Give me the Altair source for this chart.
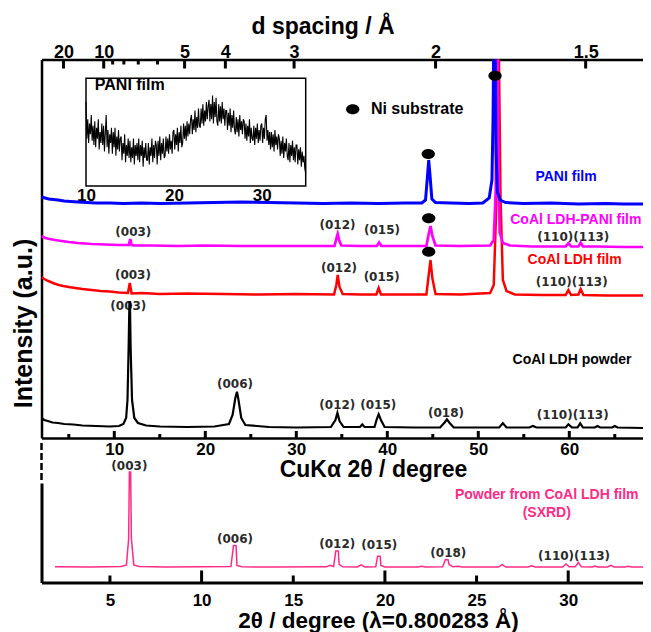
import math
import altair as alt
import pandas as pd

SANS = "Liberation Sans"
PEAK_FONT = "DejaVu Sans"
W = 601.5
H = 523

CU_LAMBDA = 1.5406  # Å

# ---------------- CuKα patterns: 2θ (deg) and intensity (a.u., stacked as drawn) ----------------
pani_tt = [2.0, 2.4, 2.8, 3.3, 3.8, 4.5, 5.2, 6.0, 7.0, 8.0, 9.5, 11, 13, 15, 18, 21, 24, 27, 30, 33,
           36, 39, 42, 43.8, 44.2, 44.4, 44.55, 44.7, 44.9, 45.3, 47, 49, 50.5, 51.2, 51.5, 51.62, 51.72,
           51.85, 51.95, 52.1, 52.4, 53, 55, 58, 61, 64, 66, 68.1]
pani_i = [241, 240, 239, 238.5, 238, 237, 236.5, 236, 235.5, 235, 235, 234.5, 235, 234.5, 235, 235.5,
          236, 235.5, 235, 234.5, 235, 234.5, 235, 235, 238, 260, 278, 262, 239, 235.5, 235, 234.5, 235,
          240, 258, 318, 420, 420, 288, 246, 238, 235.5, 234.5, 235, 234, 234.5, 234, 234]

ldhpani_tt = [2.0, 2.4, 2.9, 3.5, 4.2, 5.0, 6.0, 7.5, 9.0, 10.5, 11.6, 11.75, 11.9, 12.2, 14, 17, 20, 24,
              28, 32, 34.2, 34.42, 34.55, 34.7, 34.95, 37, 38.85, 39.1, 39.35, 41, 44.3, 44.55, 44.75,
              44.95, 45.3, 48, 51.3, 51.7, 51.92, 52.0, 52.1, 52.2, 52.35, 52.7, 53.5, 56, 59.6, 59.9,
              60.2, 61.0, 61.25, 61.5, 63, 66, 68.1]
ldhpani_i = [202, 200, 199, 198, 197, 196, 195, 194, 193.5, 193, 193, 199, 193, 192.5, 192.5, 192,
             192.5, 192, 192, 192, 192, 200, 204, 198, 192.5, 192, 192, 195.5, 192, 192, 192, 204, 212,
             202, 192.5, 192, 192.5, 198, 248, 398, 398, 278, 206, 195, 192.5, 191.5, 191.5, 194.7, 191.5,
             191.5, 195.3, 191.5, 191.5, 191, 191]

ldhfilm_tt = [2.0, 2.3, 2.6, 3.0, 3.4, 3.9, 4.4, 5.0, 5.7, 6.5, 7.5, 8.5, 9.5, 10.5, 11.5, 11.7, 11.9, 13,
              15, 18, 22, 26, 30, 34.15, 34.4, 34.55, 34.75, 35.1, 37, 38.8, 39.05, 39.3, 42, 44.3, 44.55,
              44.75, 44.95, 45.3, 48, 51.3, 51.7, 52.0, 52.12, 52.25, 52.45, 52.7, 53.1, 54, 57, 59.6,
              59.9, 60.2, 61.0, 61.25, 61.55, 64, 68.1]
ldhfilm_i = [161, 159, 157.5, 156, 154.5, 153, 152, 151, 150, 149, 148, 147, 146.5, 145.5, 145, 155, 144.5,
             145, 144, 144.5, 144, 143.5, 144, 143.5, 153, 163, 151, 144, 143.5, 143.5, 150, 143.5, 143.5,
             143.5, 163, 178, 160, 144, 143.5, 145, 153, 238, 398, 398, 238, 158, 147, 143.5, 143, 143,
             148, 143, 143.5, 149, 143, 142.5, 142.5]

powder_tt = [2.0, 2.3, 2.7, 3.2, 3.8, 4.5, 5.5, 6.5, 8.0, 9.5, 10.5, 11.0, 11.3, 11.45, 11.58, 11.66, 11.72,
             11.8, 11.95, 12.2, 12.6, 13.5, 15, 18, 21, 22.6, 23.0, 23.3, 23.48, 23.65, 23.95, 24.4, 27, 30,
             33.8, 34.3, 34.52, 34.75, 35.2, 37.0, 37.25, 37.5, 38.6, 38.85, 39.05, 39.3, 39.7, 43, 45.8,
             46.3, 46.55, 46.85, 47.3, 50, 52.3, 52.7, 53.1, 55.6, 56.0, 56.4, 59.6, 59.9, 60.3, 60.9, 61.2,
             61.5, 62.8, 63.1, 63.4, 64.7, 65.0, 65.3, 68.1]
powder_i = [20, 18, 17, 15.5, 15, 14, 13.5, 12.5, 12, 11.5, 12, 14, 20, 38, 93, 136, 136, 88, 38, 20, 15,
            12.5, 11.5, 11, 11.5, 14, 23, 40, 46.3, 38, 20, 13, 11, 10.5, 11, 18, 25.3, 17, 11, 11, 13.5,
            11, 11, 19, 23.7, 18, 11, 10.5, 10.5, 15.5, 18.7, 15, 10.5, 10.5, 10.5, 14.7, 10.5, 10.5, 12,
            10.5, 10.5, 13.7, 10.5, 10.5, 14.7, 10.5, 10.5, 12, 10.5, 10.5, 12, 10.5, 10]

series_names = ["CoAl LDH powder", "CoAl LDH film", "CoAl LDH-PANI film", "PANI film"]
series_colors = ["#000000", "#ff0000", "#ff00ff", "#0000ff"]
series_widths = [2.2, 3.0, 3.0, 3.0]

# peak labels (hkl) on the CuKα patterns
hkl_text = ["(003)", "(003)", "(003)", "(006)", "(012)", "(015)", "(012)", "(015)", "(012)", "(015)",
            "(018)", "(110)(113)", "(110)(113)", "(110)(113)"]
hkl_tt = [12.09, 12.05, 11.54, 23.26, 34.53, 39.42, 34.69, 39.38, 34.51, 39.01, 46.45, 60.44, 60.26, 60.37]
hkl_i = [206.3, 163, 132, 54, 213, 208, 169.7, 161.3, 33, 33, 25.3, 201.3, 156.3, 23]

# series name labels
name_tt = [59.64, 60.72, 60.58, 60.3]
name_i = [260.7, 218, 178, 78]
name_series = ["PANI film", "CoAl LDH-PANI film", "CoAl LDH film", "CoAl LDH powder"]

# Ni substrate reflections (markers)
ni_tt = [44.5, 44.55, 44.55, 51.84]
ni_i = [284, 219.7, 186.3, 362.3]
ni_key_tt = [36.2]
ni_key_i = [328.7]
ni_label_tt = [38.2]

# d-spacing ticks (Å) and 2θ ticks (deg)
d_major = [20, 10, 5, 4, 3, 2, 1.5]
d_minor = [9, 8, 7, 6]
cu_major = [10, 20, 30, 40, 50, 60]
cu_minor = [5, 15, 25, 35, 45, 55, 65]
sx_major = [10, 20, 30]
sx_minor = [5, 15, 25]
sx_labels = [5, 10, 15, 20, 25, 30]

# ---------------- SXRD pattern (λ = 0.800283 Å) ----------------
sx_tt = [2.0, 4.0, 5.6, 5.9, 6.02, 6.06, 6.13, 6.17, 6.3, 6.6, 8.0, 10.0, 11.6, 11.74, 11.78, 11.88, 11.93,
         12.2, 14.0, 16.8, 17.0, 17.2, 17.32, 17.36, 17.46, 17.5, 17.7, 18.5, 18.7, 18.9, 19.5, 19.6, 19.64,
         19.74, 19.78, 20.0, 21.8, 22.0, 22.2, 23.15, 23.3, 23.34, 23.44, 23.5, 23.7, 24.0, 24.2, 26.2,
         26.4, 26.6, 27.8, 28.0, 28.2, 29.7, 29.88, 30.05, 30.38, 30.55, 30.72, 31.3, 31.46, 31.6, 32.15,
         32.33, 32.5, 33.1, 33.28, 33.45, 34.08]
sx_i = [0.5, 0.3, 0.8, 2.5, 30, 100, 100, 30, 2.5, 0.8, 0.3, 0.5, 0.8, 23, 23, 23, 2, 0.5, 0.3, 0.5, 2, 0.8,
        17, 17, 17, 3, 0.5, 0.3, 2.5, 0.3, 0.5, 11.6, 11.6, 11.6, 2, 0.3, 0.3, 1.2, 0.3, 0.5, 8, 8.1, 8, 3,
        0.5, 1, 0.3, 0.3, 2.8, 0.3, 0.3, 1.6, 0.3, 0.3, 3.5, 0.5, 0.5, 5, 0.5, 0.3, 1.2, 0.3, 0.3, 2, 0.3,
        0.3, 1, 0.3, 0.3]
sx_hkl = ["(003)", "(006)", "(012)", "(015)", "(018)", "(110)(113)"]
sx_hkl_tt = [6.06, 11.82, 17.40, 19.69, 23.46, 30.32]
sx_hkl_i = [106.6, 30.2, 24.9, 23.9, 15.1, 11.6]
sx_name = ["Powder from CoAl LDH film", "(SXRD)"]
sx_name_tt = [28.83, 28.83]
sx_name_i = [75.8, 56.8]

# ---------------- inset: PANI film, 2θ 10-35°, step 0.1° ----------------
inset_i = [
    78, 44, 62, 40, 58, 48, 66, 42, 56, 38,
    60, 36, 54, 44, 62, 34, 50, 40, 58, 38,
    56, 32, 50, 66, 36, 52, 30, 48, 40, 54,
    30, 50, 36, 54, 28, 46, 34, 52, 32, 44,
    46, 24, 40, 30, 48, 22, 38, 28, 44, 26,
    42, 22, 36, 26, 44, 20, 38, 28, 40, 24,
    44, 22, 38, 28, 42, 18, 36, 26, 40, 24,
    24, 40, 20, 36, 28, 44, 22, 38, 26, 42,
    38, 20, 42, 28, 46, 24, 40, 30, 44, 26,
    28, 46, 32, 44, 30, 48, 34, 42, 30, 50,
    52, 34, 48, 38, 54, 32, 50, 40, 56, 36,
    40, 58, 44, 56, 42, 60, 46, 58, 48, 62,
    66, 48, 62, 52, 70, 50, 64, 54, 72, 56,
    54, 72, 58, 76, 56, 70, 60, 78, 62, 74,
    80, 60, 76, 62, 84, 58, 78, 64, 82, 60,
    56, 76, 60, 74, 58, 78, 62, 72, 56, 70,
    70, 52, 68, 56, 72, 50, 66, 54, 70, 52,
    48, 64, 50, 62, 46, 66, 52, 60, 48, 62,
    60, 44, 58, 42, 56, 46, 62, 40, 54, 44,
    42, 56, 38, 54, 44, 58, 40, 52, 42, 56,
    58, 40, 54, 44, 62, 66, 42, 52, 38, 50,
    34, 50, 36, 48, 32, 52, 38, 46, 34, 48,
    44, 28, 42, 30, 46, 26, 40, 32, 44, 28,
    24, 40, 22, 38, 28, 42, 24, 36, 22, 38,
    38, 20, 34, 24, 36, 18, 32, 22, 28, 16,
    12]
inset_start, inset_step = 10.0, 0.1

# ---------------- tables ----------------
rows = []
for name, xs, ys in [("CoAl LDH powder", powder_tt, powder_i), ("CoAl LDH film", ldhfilm_tt, ldhfilm_i),
                     ("CoAl LDH-PANI film", ldhpani_tt, ldhpani_i), ("PANI film", pani_tt, pani_i)]:
    for k, (a, b) in enumerate(zip(xs, ys)):
        rows.append({"series": name, "tt": a, "i": b, "idx": k})
df_tr = pd.DataFrame(rows)
df_hkl = pd.DataFrame({"tt": hkl_tt, "i": hkl_i, "label": hkl_text})
df_names = pd.DataFrame({"tt": name_tt, "i": name_i, "series": name_series})
df_ni = pd.DataFrame({"tt": ni_tt, "i": ni_i})
df_nikey = pd.DataFrame({"tt": ni_key_tt, "i": ni_key_i})
df_nilab = pd.DataFrame({"tt": ni_label_tt, "i": ni_key_i, "label": ["Ni substrate"]})
df_sx = pd.DataFrame({"tt": sx_tt, "i": sx_i, "idx": list(range(len(sx_tt)))})
df_sxhkl = pd.DataFrame({"tt": sx_hkl_tt, "i": sx_hkl_i, "label": sx_hkl})
df_sxname = pd.DataFrame({"tt": sx_name_tt, "i": sx_name_i, "label": sx_name})
df_in = pd.DataFrame({"tt": [round(inset_start + inset_step * k, 1) for k in range(len(inset_i))],
                      "i": inset_i, "idx": list(range(len(inset_i)))})
df_box = pd.DataFrame({"x0": [10], "x1": [35], "y0": [0], "y1": [100]})
df_intitle = pd.DataFrame({"tt": [11.0], "i": [93.8], "label": ["PANI film"]})


def two_theta(d):
    return 2 * math.degrees(math.asin(CU_LAMBDA / (2 * d)))


d_major_tt = [two_theta(d) for d in d_major]
d_minor_tt = [two_theta(d) for d in d_minor]

ELLIPSE = "M-1,0A1,0.75,0,1,1,1,0A1,0.75,0,1,1,-1,0Z"

# ---------------- CuKα group ----------------
cu_x = alt.Scale(domain=[2.0, 68.1], range=[0, W], padding=0)
top_y = alt.Scale(domain=[0, 378.5], range=[378.5, 0], padding=0)   # 1 a.u. = 1 px
color_scale = alt.Scale(domain=series_names, range=series_colors)
width_scale = alt.Scale(domain=series_names, range=series_widths)


def tick_table(positions, y_from, y_to):
    return pd.DataFrame({"tt": [float(p) for p in positions], "y0": [float(y_from)] * len(positions),
                         "y1": [float(y_to)] * len(positions)})


def tick_bars(df, sx, sy):
    """Inward tick marks: 3-px wide bars from y0 to y1 (group's y units) at 2θ positions."""
    return alt.Chart(df).mark_bar(color="black", width=3, opacity=1).encode(
        x=alt.X("tt:Q", scale=sx, axis=None),
        y=alt.Y("y0:Q", scale=sy, axis=None),
        y2="y1:Q")


cu_ticks = pd.concat([tick_table(cu_major, 0, 7), tick_table(cu_minor, 0, 4),
                      tick_table(d_major_tt, 378.5, 369.5), tick_table(d_minor_tt, 378.5, 373.5)],
                     ignore_index=True)

hkl_layer = alt.Chart(df_hkl).mark_text(font=PEAK_FONT, fontSize=12, fontWeight="bold",
                                        color="#2a2a2a", baseline="middle").encode(
    x=alt.X("tt:Q", scale=cu_x, axis=None),
    y=alt.Y("i:Q", scale=top_y, axis=None),
    text="label:N")

trace_layer = alt.Chart(df_tr).mark_line(clip=True).encode(
    x=alt.X("tt:Q", scale=cu_x, axis=alt.Axis(
        orient="bottom", offset=-144.5, values=cu_major, ticks=False, domain=True, domainWidth=2.5,
        labelFontSize=17, labelPadding=3.5, title="CuKα 2θ / degree", titleFontSize=23,
        titleX=331.5, titleY=38, titleBaseline="alphabetic")),
    y=alt.Y("i:Q", scale=top_y, axis=alt.Axis(
        orient="left", domain=True, domainWidth=2.5, ticks=False, labels=False,
        title="Intensity (a.u.)", titleFontSize=25, titleX=-10.5, titleY=263.5, titleAngle=270,
        titleBaseline="alphabetic", titleAlign="center")),
    color=alt.Color("series:N", scale=color_scale, legend=None),
    strokeWidth=alt.StrokeWidth("series:N", scale=width_scale, legend=None),
    detail="series:N",
    order="idx:Q")

ni_layer = alt.Chart(df_ni).mark_point(shape=ELLIPSE, filled=True, size=177, color="black",
                                       opacity=1).encode(
    x=alt.X("tt:Q", scale=cu_x, axis=alt.Axis(
        orient="top", values=d_major_tt,
        labelExpr="format(1.5406/(2*sin(datum.value*PI/360)), '.2~f')",
        ticks=False, domain=True, domainWidth=2.7, labelFontSize=18, labelPadding=2,
        labelBaseline="alphabetic", title="d spacing / Å", titleFontSize=23, titleX=281,
        titleY=-26.2, titleBaseline="alphabetic")),
    y=alt.Y("i:Q", scale=top_y, axis=None))

nikey_layer = alt.Chart(df_nikey).mark_point(shape=ELLIPSE, filled=True, size=177, color="black",
                                             opacity=1).encode(
    x=alt.X("tt:Q", scale=cu_x, axis=None),
    y=alt.Y("i:Q", scale=top_y, axis=None))

nilab_layer = alt.Chart(df_nilab).mark_text(font=SANS, fontSize=16, fontWeight="bold", align="left",
                                            baseline="middle", color="black").encode(
    x=alt.X("tt:Q", scale=cu_x, axis=None),
    y=alt.Y("i:Q", scale=top_y, axis=None),
    text="label:N")

names_layer = alt.Chart(df_names).mark_text(font=SANS, fontSize=14, fontWeight="bold",
                                            baseline="middle").encode(
    x=alt.X("tt:Q", scale=cu_x, axis=None),
    y=alt.Y("i:Q", scale=top_y, axis=None),
    text="series:N",
    color=alt.Color("series:N", scale=color_scale, legend=None))

break_layer = alt.Chart(pd.DataFrame({"k": [0]})).mark_rule(
    strokeDash=[7, 3], strokeWidth=2.5, color="black").encode(
    x=alt.value(0), y=alt.value(383.5), y2=alt.value(420.5))

cu_group = alt.layer(
    tick_bars(cu_ticks, cu_x, top_y),
    hkl_layer, trace_layer, ni_layer, nikey_layer, nilab_layer, names_layer, break_layer,
).resolve_axis(x="independent", y="independent")

# ---------------- SXRD group ----------------
PINK = "#ff2a85"
sx_x = alt.Scale(domain=[1.266, 34.08], range=[0, W], padding=0)
sx_y = alt.Scale(domain=[-15.95, 88.46], range=[H, 423.5], padding=0)   # 1 unit = 0.953 px

sx_line = alt.Chart(df_sx).mark_line(color=PINK, strokeWidth=1.5).encode(
    x=alt.X("tt:Q", scale=sx_x, axis=alt.Axis(
        orient="bottom", values=sx_labels, ticks=False, domain=True, domainWidth=3,
        labelFontSize=17, labelPadding=9.5, title="2θ / degree (λ=0.800283 Å)", titleFontSize=22.5,
        titleX=336.5, titleY=44.5, titleBaseline="alphabetic")),
    y=alt.Y("i:Q", scale=sx_y, axis=alt.Axis(orient="left", domain=True, domainWidth=3, ticks=False,
                                             labels=False, title=None)),
    order="idx:Q")

sx_hkl_layer = alt.Chart(df_sxhkl).mark_text(font=PEAK_FONT, fontSize=12, fontWeight="bold",
                                             color="#2a2a2a", baseline="middle").encode(
    x=alt.X("tt:Q", scale=sx_x, axis=None),
    y=alt.Y("i:Q", scale=sx_y, axis=None),
    text="label:N")

sx_name_layer = alt.Chart(df_sxname).mark_text(font=SANS, fontSize=14, fontWeight="bold",
                                               color=PINK, baseline="middle").encode(
    x=alt.X("tt:Q", scale=sx_x, axis=None),
    y=alt.Y("i:Q", scale=sx_y, axis=None),
    text="label:N")

sx_ticks = pd.concat([tick_table(sx_major, -15.95, -3.35), tick_table(sx_minor, -15.95, -8.6)],
                     ignore_index=True)

sx_group = alt.layer(
    tick_bars(sx_ticks, sx_x, sx_y), sx_hkl_layer, sx_line, sx_name_layer,
).resolve_axis(x="independent", y="independent")

# ---------------- inset group ----------------
in_x = alt.Scale(domain=[10, 35], range=[44.5, 264.2])
in_y = alt.Scale(domain=[0, 100], range=[126.5, 18.8])

in_box = alt.Chart(df_box).mark_rect(fillOpacity=0, stroke="black", strokeWidth=1.5).encode(
    x=alt.X("x0:Q", scale=in_x, axis=None), x2="x1:Q",
    y=alt.Y("y0:Q", scale=in_y, axis=None), y2="y1:Q")

in_line = alt.Chart(df_in).mark_line(color="black", strokeWidth=1.1).encode(
    x=alt.X("tt:Q", scale=in_x, axis=alt.Axis(orient="bottom", offset=126.5 - H, values=[10, 20, 30],
                                              ticks=False, domain=False, labelFontSize=17,
                                              labelPadding=1.5, title=None)),
    y=alt.Y("i:Q", scale=in_y, axis=None),
    order="idx:Q")

in_title = alt.Chart(df_intitle).mark_text(font=SANS, fontSize=16, fontWeight="bold", align="left",
                                           baseline="middle", color="black").encode(
    x=alt.X("tt:Q", scale=in_x, axis=None),
    y=alt.Y("i:Q", scale=in_y, axis=None),
    text="label:N")

in_group = alt.layer(in_box, in_line, in_title).resolve_axis(x="independent", y="independent")

chart = alt.layer(cu_group, sx_group, in_group).resolve_scale(
    x="independent", y="independent").resolve_axis(x="independent", y="independent").properties(
    width=W, height=H,
    padding={"left": 33.5, "top": 51.5, "right": 0, "bottom": 49.5},
    autosize=alt.AutoSizeParams(type="none"),
    background="white",
).configure_view(stroke=None).configure_axis(
    grid=False, labelFlush=False, labelOverlap=False, labelFont=SANS, labelFontWeight="bold",
    labelColor="black", titleFont=SANS, titleFontWeight="bold", titleColor="black",
    domainColor="black", tickColor="black", tickWidth=3)

chart.save("out.html", embed_options={"renderer": "svg", "actions": False})
